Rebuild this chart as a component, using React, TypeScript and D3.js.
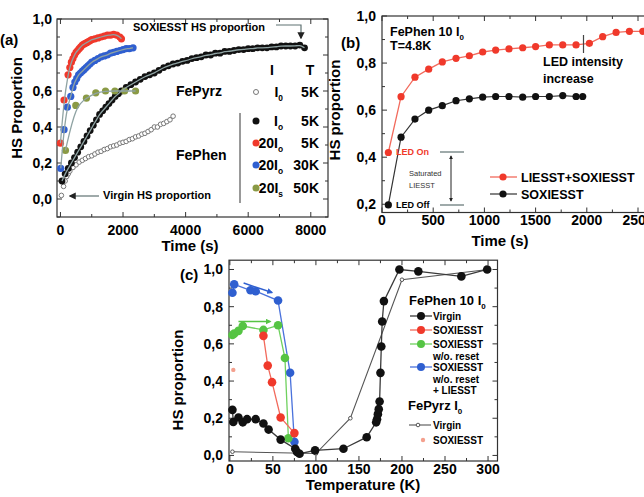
import React from "react";
import * as d3 from "d3";

// ---------- panel (a): HS proportion vs time ----------
const blackT = [50, 150, 250, 350, 450, 550, 650, 750, 850, 950, 1050, 1150, 1250, 1350, 1450, 1550, 1650, 1750, 1850, 1950, 2100, 2250, 2400, 2550, 2700, 2850, 3000, 3150, 3300, 3450, 3600, 3750, 3900, 4050, 4200, 4350, 4500, 4650, 4800, 4950, 5100, 5250, 5400, 5550, 5700, 5850, 6000, 6150, 6300, 6450, 6600, 6750, 6900, 7050, 7200, 7350, 7500, 7650, 7800];
const blackV = [0.1, 0.14, 0.17, 0.2, 0.23, 0.26, 0.29, 0.32, 0.35, 0.38, 0.41, 0.44, 0.47, 0.49, 0.51, 0.53, 0.55, 0.57, 0.585, 0.6, 0.62, 0.635, 0.65, 0.665, 0.68, 0.69, 0.7, 0.715, 0.73, 0.74, 0.75, 0.755, 0.765, 0.77, 0.78, 0.785, 0.79, 0.8, 0.8, 0.81, 0.81, 0.82, 0.82, 0.825, 0.83, 0.83, 0.835, 0.835, 0.84, 0.84, 0.84, 0.845, 0.845, 0.85, 0.85, 0.85, 0.85, 0.855, 0.84];
const redT = [0, 115, 243, 300, 350, 400, 450, 500, 550, 600, 650, 700, 750, 800, 850, 900, 950, 1000, 1100, 1200, 1300, 1400, 1500, 1600, 1700, 1800, 1900, 1950];
const redV = [0.31, 0.55, 0.69, 0.73, 0.76, 0.78, 0.8, 0.815, 0.825, 0.835, 0.845, 0.855, 0.86, 0.865, 0.87, 0.875, 0.88, 0.885, 0.89, 0.895, 0.9, 0.905, 0.91, 0.91, 0.915, 0.91, 0.9, 0.89];
const blueT = [10, 115, 220, 330, 400, 460, 520, 580, 640, 700, 760, 820, 880, 940, 1000, 1100, 1200, 1300, 1400, 1500, 1600, 1700, 1800, 1900, 2000, 2100, 2200, 2320];
const blueV = [0.17, 0.385, 0.51, 0.57, 0.62, 0.65, 0.67, 0.69, 0.7, 0.71, 0.72, 0.73, 0.74, 0.75, 0.76, 0.77, 0.78, 0.79, 0.795, 0.8, 0.81, 0.815, 0.82, 0.825, 0.83, 0.835, 0.835, 0.84];
const oliveT = [160, 490, 830, 1130, 1440, 1740, 2050, 2400];
const oliveV = [0.27, 0.52, 0.56, 0.59, 0.6, 0.6, 0.6, 0.6];
const pyrzT = [30, 100, 150, 200, 250, 300, 400, 500, 600, 700, 800, 900, 1000, 1100, 1200, 1300, 1400, 1500, 1600, 1700, 1800, 1900, 2000, 2100, 2200, 2300, 2400, 2500, 2600, 2700, 2800, 2900, 3000, 3100, 3200, 3300, 3400, 3500, 3600];
const pyrzV = [0.02, 0.07, 0.1, 0.125, 0.14, 0.155, 0.175, 0.19, 0.205, 0.215, 0.225, 0.235, 0.24, 0.25, 0.26, 0.265, 0.275, 0.28, 0.29, 0.295, 0.3, 0.31, 0.315, 0.32, 0.33, 0.335, 0.345, 0.35, 0.36, 0.365, 0.375, 0.385, 0.4, 0.4, 0.415, 0.42, 0.43, 0.44, 0.46];

// ---------- panel (b) ----------
const bRedT = [62, 186, 322, 456, 589, 723, 853, 983, 1110, 1240, 1374, 1500, 1634, 1765, 1895, 2025, 2155, 2286, 2416, 2547];
const bRedV = [0.42, 0.657, 0.74, 0.774, 0.805, 0.82, 0.831, 0.847, 0.855, 0.86, 0.865, 0.87, 0.877, 0.877, 0.877, 0.884, 0.912, 0.93, 0.935, 0.935];
const bBlackT = [62, 186, 322, 456, 589, 723, 853, 983, 1110, 1240, 1374, 1500, 1634, 1765, 1895, 1960];
const bBlackV = [0.197, 0.485, 0.562, 0.6, 0.619, 0.64, 0.648, 0.655, 0.658, 0.658, 0.655, 0.658, 0.658, 0.662, 0.658, 0.658];

// ---------- panel (c): HS proportion vs temperature ----------
const cVirginT = [3, 4, 10, 15, 20, 30, 39, 45, 59, 76, 78, 81, 99, 132, 159, 170, 171, 172, 173, 174, 175, 176, 177, 179, 197, 219, 269, 299];
const cVirginV = [0.245, 0.18, 0.204, 0.178, 0.195, 0.195, 0.172, 0.139, 0.085, 0.036, 0.018, 0.009, 0.027, 0.036, 0.098, 0.178, 0.195, 0.222, 0.249, 0.29, 0.444, 0.586, 0.72, 0.83, 1.0, 0.99, 0.963, 1.0];
const cSoxT = [39, 44, 49, 59, 75];
const cSoxV = [0.643, 0.483, 0.394, 0.204, 0.12];
const cNoResetT = [3, 5, 10, 15, 39, 56, 64, 68];
const cNoResetV = [0.648, 0.655, 0.67, 0.696, 0.675, 0.7, 0.524, 0.092];
const cLiesstT = [3, 5, 24, 30, 56, 70, 75];
const cLiesstV = [0.875, 0.92, 0.888, 0.883, 0.833, 0.445, 0.073];
const cPyrzT = [3, 100, 140, 200, 300];
const cPyrzV = [0.02, 0.01, 0.2, 0.945, 1.0];
const cPyrzSoxT = [4];
const cPyrzSoxV = [0.46];

const FONT = "'Liberation Sans', Arial, sans-serif";
const RED = "#f0392b";
const BLUE = "#2f5fd0";
const OLIVE = "#8a9a45";
const GREEN = "#55c443";
const AX = "#333";
const GRAY = "#5f7272";

const zip = (a: number[], b: number[]) => a.map((t, i) => [t, b[i]] as [number, number]);
const comma = (d: number) => d.toFixed(1).replace(".", ",");

type FrameProps = {
  x: d3.ScaleLinear<number, number>;
  y: d3.ScaleLinear<number, number>;
  xMajor: number[];
  xMinor: number[];
  yMajor: number[];
  yMinor: number[];
  xLabelY: number;
  yLabelX: number;
};

function Frame({ x, y, xMajor, xMinor, yMajor, yMinor, xLabelY, yLabelX }: FrameProps) {
  const [x0, x1] = x.range();
  const [y0, y1] = y.range();
  const top = Math.min(y0, y1), bot = Math.max(y0, y1);
  const tick = (v: number, len: number, k: string) => (
    <g key={k}>
      <line x1={x(v)} x2={x(v)} y1={bot} y2={bot - len} stroke={AX} />
      <line x1={x(v)} x2={x(v)} y1={top} y2={top + len} stroke={AX} />
    </g>
  );
  const ytick = (v: number, len: number, k: string) => (
    <g key={k}>
      <line x1={x0} x2={x0 + len} y1={y(v)} y2={y(v)} stroke={AX} />
      <line x1={x1} x2={x1 - len} y1={y(v)} y2={y(v)} stroke={AX} />
    </g>
  );
  return (
    <g>
      <rect x={x0} y={top} width={x1 - x0} height={bot - top} fill="none" stroke={AX} strokeWidth={1.2} />
      {xMinor.map((v, i) => tick(v, 3, "xm" + i))}
      {xMajor.map((v, i) => tick(v, 5, "xM" + i))}
      {yMinor.map((v, i) => ytick(v, 3, "ym" + i))}
      {yMajor.map((v, i) => ytick(v, 5, "yM" + i))}
      {xMajor.map((v, i) => (
        <text key={"xl" + i} x={x(v)} y={xLabelY} textAnchor="middle" fontSize={14} fontWeight="bold">{v}</text>
      ))}
      {yMajor.map((v, i) => (
        <text key={"yl" + i} x={yLabelX} y={y(v) + 5} textAnchor="end" fontSize={14} fontWeight="bold">{comma(v)}</text>
      ))}
    </g>
  );
}

function Sub({ x, y, main, sub, size = 14, anchor = "end" }: { x: number; y: number; main: string; sub: string; size?: number; anchor?: string }) {
  return (
    <text x={x} y={y} textAnchor={anchor as any} fontSize={size} fontWeight="bold">
      {main}
      <tspan dy={4} fontSize={size * 0.6}>{sub}</tspan>
    </text>
  );
}

function PanelA() {
  const x = d3.scaleLinear().domain([-110, 8550]).range([57, 328]);
  const y = d3.scaleLinear().domain([-0.1, 1.0]).range([217, 19]);
  const fit = d3.line<[number, number]>().x(d => x(d[0])).y(d => y(d[1])).curve(d3.curveBasis);
  const series = [
    { pts: zip(blackT, blackV), c: "#111", r: 3.4 },
    { pts: zip(redT, redV), c: RED, r: 3.6 },
    { pts: zip(blueT, blueV), c: BLUE, r: 3.6 },
    { pts: zip(oliveT, oliveV), c: OLIVE, r: 3.6 },
  ];
  return (
    <g>
      <Frame x={x} y={y} xMajor={[0, 2000, 4000, 6000, 8000]} xMinor={[1000, 3000, 5000, 7000]}
        yMajor={[0, 0.2, 0.4, 0.6, 0.8, 1.0]} yMinor={[-0.1, 0.1, 0.3, 0.5, 0.7, 0.9]} xLabelY={235} yLabelX={52} />
      {zip(pyrzT, pyrzV).map((d, i) => (
        <circle key={"p" + i} cx={x(d[0])} cy={y(d[1])} r={2.3} fill="#fff" stroke="#777" strokeWidth={1} />
      ))}
      {series.map((s, k) => (
        <g key={k}>
          {s.pts.map((d, i) => <circle key={i} cx={x(d[0])} cy={y(d[1])} r={s.r} fill={s.c} />)}
        </g>
      ))}
      {series.map((s, k) => (
        <path key={"f" + k} d={fit(s.pts) || ""} fill="none" stroke="#8fa3a3" strokeWidth={1.3} />
      ))}
      <text x={0} y={45} fontSize={15} fontWeight="bold">(a)</text>
      <text transform="translate(22,108) rotate(-90)" textAnchor="middle" fontSize={15} fontWeight="bold">HS Proportion</text>
      <text x={190} y={251} textAnchor="middle" fontSize={15} fontWeight="bold">Time (s)</text>
      <text x={133} y={31} fontSize={11} fontWeight="bold">SOXIESST HS proportion</text>
      <path d="M276,25 H301 V38" fill="none" stroke={GRAY} strokeWidth={1.2} markerEnd="url(#arrowG)" />
      <text x={103} y={199} fontSize={11} fontWeight="bold">Virgin HS proportion</text>
      <line x1={99} x2={70} y1={196} y2={196} stroke={GRAY} strokeWidth={1.2} markerEnd="url(#arrowG)" />
      {/* legend */}
      <text x={272} y={75} textAnchor="middle" fontSize={14} fontWeight="bold">I</text>
      <text x={310} y={75} textAnchor="middle" fontSize={14} fontWeight="bold">T</text>
      <text x={176} y={96} fontSize={14} fontWeight="bold">FePyrz</text>
      <circle cx={256} cy={92} r={2.5} fill="#fff" stroke="#777" />
      <Sub x={283} y={97} main="I" sub="0" />
      <text x={319} y={97} textAnchor="end" fontSize={14} fontWeight="bold">5K</text>
      <text x={176} y={160} fontSize={14} fontWeight="bold">FePhen</text>
      <line x1={240} x2={240} y1={113} y2={203} stroke="#555" strokeWidth={1.2} />
      {[
        { c: "#111", cy: 121, m: "I", s: "o", t: "5K" },
        { c: RED, cy: 143, m: "20I", s: "o", t: "5K" },
        { c: BLUE, cy: 165, m: "20I", s: "o", t: "30K" },
        { c: OLIVE, cy: 188, m: "20I", s: "s", t: "50K" },
      ].map((r, i) => (
        <g key={i}>
          <circle cx={256} cy={r.cy} r={3.5} fill={r.c} />
          <Sub x={283} y={r.cy + 5} main={r.m} sub={r.s} />
          <text x={319} y={r.cy + 5} textAnchor="end" fontSize={14} fontWeight="bold">{r.t}</text>
        </g>
      ))}
    </g>
  );
}

function PanelB() {
  const x = d3.scaleLinear().domain([0, 2750]).range([382, 663.6]);
  const y = d3.scaleLinear().domain([0.165, 1.0]).range([212.5, 16]);
  const ln = d3.line<[number, number]>().x(d => x(d[0])).y(d => y(d[1]));
  const red = zip(bRedT, bRedV);
  const blk = zip(bBlackT, bBlackV);
  return (
    <g>
      <Frame x={x} y={y} xMajor={[0, 500, 1000, 1500, 2000, 2500]} xMinor={[250, 750, 1250, 1750, 2250]}
        yMajor={[0.2, 0.4, 0.6, 0.8, 1.0]} yMinor={[0.3, 0.5, 0.7, 0.9]} xLabelY={225} yLabelX={376} />
      <path d={ln(red) || ""} fill="none" stroke="#f26a5c" strokeWidth={1.3} />
      <path d={ln(blk) || ""} fill="none" stroke="#333" strokeWidth={1.2} />
      {red.map((d, i) => <circle key={"r" + i} cx={x(d[0])} cy={y(d[1])} r={3.6} fill={RED} />)}
      {blk.map((d, i) => <circle key={"b" + i} cx={x(d[0])} cy={y(d[1])} r={3.6} fill="#111" />)}
      <text x={341} y={48} fontSize={15} fontWeight="bold">(b)</text>
      <text transform="translate(340,110) rotate(-90)" textAnchor="middle" fontSize={15} fontWeight="bold">HS proportion</text>
      <text x={500} y={246} textAnchor="middle" fontSize={15} fontWeight="bold">Time (s)</text>
      <text x={390} y={36} fontSize={12.5} fontWeight="bold">FePhen 10 I<tspan dy={4} fontSize={8}>0</tspan></text>
      <text x={390} y={50} fontSize={12.5} fontWeight="bold">T=4.8K</text>
      <line x1={583.5} x2={583.5} y1={35} y2={53} stroke="#444" strokeWidth={1.2} />
      <text x={543} y={66} fontSize={12.5} fontWeight="bold">LED intensity</text>
      <text x={543} y={83} fontSize={12.5} fontWeight="bold">increase</text>
      <text x={396} y={155} fontSize={9} fontWeight="bold" fill={RED}>LED On</text>
      <text x={396} y={208} fontSize={9} fontWeight="bold">LED Off</text>
      <line x1={440} x2={464} y1={152} y2={152} stroke={GRAY} strokeWidth={1.2} />
      <line x1={440} x2={464} y1={205} y2={205} stroke={GRAY} strokeWidth={1.2} />
      <line x1={451} x2={451} y1={156} y2={201} stroke="#222" strokeWidth={1} markerEnd="url(#arrowS)" markerStart="url(#arrowS)" />
      <text x={409} y={176} fontSize={7.5} fill="#333">Saturated</text>
      <text x={409} y={188} fontSize={7.5} fill="#333">LIESST</text>
      <line x1={490} x2={517} y1={177} y2={177} stroke="#f26a5c" strokeWidth={1.3} />
      <circle cx={503} cy={177} r={3.6} fill={RED} />
      <text x={521} y={182} fontSize={12.5} fontWeight="bold">LIESST+SOXIESST</text>
      <line x1={490} x2={517} y1={194} y2={194} stroke="#333" strokeWidth={1.2} />
      <circle cx={503} cy={194} r={3.6} fill="#111" />
      <text x={521} y={199} fontSize={12.5} fontWeight="bold">SOXIESST</text>
    </g>
  );
}

function PanelC() {
  const x = d3.scaleLinear().domain([-1, 311]).range([229, 497.5]);
  const y = d3.scaleLinear().domain([-0.03, 1.05]).range([461, 260.2]);
  const ln = d3.line<[number, number]>().x(d => x(d[0])).y(d => y(d[1]));
  const series = [
    { pts: zip(cLiesstT, cLiesstV), line: "#4a72dc", c: BLUE },
    { pts: zip(cNoResetT, cNoResetV), line: "#6fd15e", c: GREEN },
    { pts: zip(cSoxT, cSoxV), line: "#f26a5c", c: RED },
    { pts: zip(cVirginT, cVirginV), line: "#3a3a3a", c: "#111" },
  ];
  const pyrz = zip(cPyrzT, cPyrzV);
  const legendRows = [
    { cy: 316, line: "#3a3a3a", c: "#111", lines: ["Virgin"] },
    { cy: 330, line: "#f26a5c", c: RED, lines: ["SOXIESST"] },
    { cy: 344, line: "#6fd15e", c: GREEN, lines: ["SOXIESST", "w/o. reset"] },
    { cy: 367, line: "#4a72dc", c: BLUE, lines: ["SOXIESST", "w/o. reset", "+ LIESST"] },
  ];
  return (
    <g>
      <Frame x={x} y={y} xMajor={[0, 50, 100, 150, 200, 250, 300]} xMinor={[25, 75, 125, 175, 225, 275]}
        yMajor={[0, 0.2, 0.4, 0.6, 0.8, 1.0]} yMinor={[0.1, 0.3, 0.5, 0.7, 0.9]} xLabelY={474} yLabelX={223} />
      <path d={ln(pyrz) || ""} fill="none" stroke="#555" strokeWidth={1.1} />
      {pyrz.map((d, i) => <circle key={"py" + i} cx={x(d[0])} cy={y(d[1])} r={1.8} fill="#fff" stroke="#555" />)}
      {series.map((s, k) => (
        <g key={k}>
          <path d={ln(s.pts) || ""} fill="none" stroke={s.line} strokeWidth={1.3} />
          {s.pts.map((d, i) => <circle key={i} cx={x(d[0])} cy={y(d[1])} r={4.3} fill={s.c} />)}
        </g>
      ))}
      {zip(cPyrzSoxT, cPyrzSoxV).map((d, i) => (
        <circle key={"ps" + i} cx={x(d[0])} cy={y(d[1])} r={2.2} fill="#f4a08e" />
      ))}
      <line x1={x(10)} x2={x(47)} y1={y(0.72)} y2={y(0.72)} stroke={GREEN} strokeWidth={1.5} markerEnd="url(#arrowGr)" />
      <line x1={x(16)} x2={x(49)} y1={y(0.927)} y2={y(0.876)} stroke={BLUE} strokeWidth={1.5} markerEnd="url(#arrowB)" />
      <text x={180} y={280} fontSize={15} fontWeight="bold">(c)</text>
      <text transform="translate(183,380) rotate(-90)" textAnchor="middle" fontSize={15} fontWeight="bold">HS proportion</text>
      <text x={363} y={490} textAnchor="middle" fontSize={15} fontWeight="bold">Temperature (K)</text>
      <text x={409} y={305} fontSize={13} fontWeight="bold">FePhen 10 I<tspan dy={4} fontSize={8}>0</tspan></text>
      {legendRows.map((r, i) => (
        <g key={i}>
          <line x1={410} x2={432} y1={r.cy} y2={r.cy} stroke={r.line} strokeWidth={1.3} />
          <circle cx={421} cy={r.cy} r={4} fill={r.c} />
          {r.lines.map((t, j) => (
            <text key={j} x={433} y={r.cy + 4 + j * 11.5} fontSize={10} fontWeight="bold">{t}</text>
          ))}
        </g>
      ))}
      <text x={408} y={410} fontSize={13} fontWeight="bold">FePyrz  I<tspan dy={4} fontSize={8}>0</tspan></text>
      <line x1={409} x2={431} y1={425} y2={425} stroke="#555" strokeWidth={1.1} />
      <circle cx={418} cy={425} r={1.8} fill="#fff" stroke="#555" />
      <text x={433} y={429} fontSize={10} fontWeight="bold">Virgin</text>
      <circle cx={423} cy={440} r={2.2} fill="#f4a08e" />
      <text x={433} y={444} fontSize={10} fontWeight="bold">SOXIESST</text>
    </g>
  );
}

export default function App() {
  return (
    <svg width={644} height={497} style={{ position: "absolute", left: 0, top: 0, background: "#fff" }} fontFamily={FONT}>
      <defs>
        <marker id="arrowG" viewBox="0 0 10 10" refX="8" refY="5" markerWidth="6" markerHeight="6" orient="auto">
          <path d="M0,0 L10,5 L0,10 z" fill="#222" />
        </marker>
        <marker id="arrowS" viewBox="0 0 10 10" refX="8" refY="5" markerWidth="4" markerHeight="4" orient="auto-start-reverse">
          <path d="M0,0 L10,5 L0,10 z" fill="#222" />
        </marker>
        <marker id="arrowGr" viewBox="0 0 10 10" refX="8" refY="5" markerWidth="4" markerHeight="4" orient="auto">
          <path d="M0,0 L10,5 L0,10 z" fill={GREEN} />
        </marker>
        <marker id="arrowB" viewBox="0 0 10 10" refX="8" refY="5" markerWidth="4" markerHeight="4" orient="auto">
          <path d="M0,0 L10,5 L0,10 z" fill={BLUE} />
        </marker>
      </defs>
      <PanelA />
      <PanelB />
      <PanelC />
    </svg>
  );
}
